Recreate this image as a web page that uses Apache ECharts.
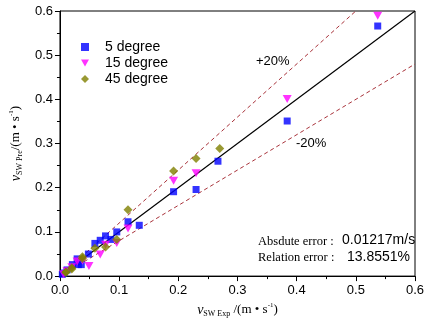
<!DOCTYPE html>
<html>
<head>
<meta charset="utf-8">
<script src="https://cdn.jsdelivr.net/npm/echarts@6/dist/echarts.min.js"></script>
<style>
  html, body { margin: 0; padding: 0; background: #fff; }
  #chart { width: 428px; height: 323px; }
</style>
</head>
<body>
<div id="chart"></div>
<script>
var deg5 = [
  [0.004, 0.004], [0.007, 0.007], [0.012, 0.014], [0.021, 0.026], [0.031, 0.026],
  [0.036, 0.026], [0.029, 0.039], [0.048, 0.050], [0.059, 0.074], [0.068, 0.081],
  [0.077, 0.091], [0.086, 0.083], [0.096, 0.100], [0.115, 0.123], [0.134, 0.115],
  [0.192, 0.191], [0.230, 0.196], [0.267, 0.260], [0.384, 0.351], [0.537, 0.566]
];
var deg15 = [
  [0.006, 0.004], [0.012, 0.011], [0.020, 0.020], [0.029, 0.033], [0.038, 0.035],
  [0.049, 0.023], [0.068, 0.049], [0.077, 0.071], [0.096, 0.075], [0.115, 0.108],
  [0.192, 0.216], [0.230, 0.233], [0.384, 0.401], [0.537, 0.589]
];
var deg45 = [
  [0.010, 0.008], [0.010, 0.009], [0.020, 0.016], [0.020, 0.019], [0.038, 0.040],
  [0.038, 0.044], [0.059, 0.063], [0.077, 0.066], [0.096, 0.083], [0.115, 0.150],
  [0.192, 0.238], [0.230, 0.266], [0.270, 0.289]
];
var lineEqual = [[0, 0], [0.6, 0.6]];
var linePlus20 = [[0, 0], [0.5, 0.6]];
var lineMinus20 = [[0, 0], [0.6, 0.48]];
var seriesNames = ['5 degree', '15 degree', '45 degree'];

var chart = echarts.init(document.getElementById('chart'));

var serif = '"Liberation Serif", "DejaVu Serif", serif';
var sans = '"Liberation Sans", Arial, sans-serif';

var nameRich = {
  v: { fontFamily: serif, fontStyle: 'italic', fontSize: 14, color: '#000', lineHeight: 16 },
  sub: { fontFamily: serif, fontSize: 8, color: '#000', verticalAlign: 'bottom', lineHeight: 16, padding: [6, 0, 0, 0] },
  u: { fontFamily: serif, fontSize: 13, color: '#000', lineHeight: 16 },
  sup: { fontFamily: serif, fontSize: 7, color: '#000', verticalAlign: 'top', lineHeight: 16 }
};

var triDown = 'path://M0,0 L10,0 L5,9 Z';

var option = {
  animation: false,
  grid: {
    left: 53, right: 13, top: 11, bottom: 44,
    show: true, borderColor: '#000', borderWidth: 1
  },
  legend: {
    orient: 'vertical',
    left: 76,
    top: 34,
    itemWidth: 8,
    itemHeight: 8,
    itemGap: 0,
    textStyle: { fontFamily: sans, fontSize: 14, color: '#000', lineHeight: 16, padding: [0, 0, 0, 11] },
    data: [
      { name: seriesNames[0], icon: 'rect' },
      { name: seriesNames[1], icon: triDown },
      { name: seriesNames[2], icon: 'diamond' }
    ]
  },
  xAxis: {
    type: 'value',
    min: 0, max: 0.6, interval: 0.1,
    name: '{v|v}{sub|SW Exp}{u| /(m • s}{sup|-1}{u|)}',
    nameLocation: 'middle',
    nameGap: 24,
    nameTextStyle: { rich: nameRich },
    axisLine: { show: true, onZero: false, lineStyle: { color: '#000', width: 1 } },
    axisTick: { show: true, length: 5, lineStyle: { color: '#000' } },
    minorTick: { show: true, splitNumber: 2, length: 3, lineStyle: { color: '#000' } },
    splitLine: { show: false },
    axisLabel: {
      fontFamily: sans, fontSize: 13, color: '#000', margin: 8,
      formatter: function (v) { return v.toFixed(1); }
    }
  },
  yAxis: {
    type: 'value',
    min: 0, max: 0.6, interval: 0.1,
    name: '{v|v}{sub|SW Pre}{u|/(m • s}{sup|-1}{u|)}',
    nameLocation: 'middle',
    nameRotate: 90,
    nameGap: 33,
    nameTextStyle: { rich: nameRich },
    axisLine: { show: true, onZero: false, lineStyle: { color: '#000', width: 1 } },
    axisTick: { show: true, length: 5, lineStyle: { color: '#000' } },
    minorTick: { show: true, splitNumber: 2, length: 3, lineStyle: { color: '#000' } },
    splitLine: { show: false },
    axisLabel: {
      fontFamily: sans, fontSize: 13, color: '#000', margin: 7,
      formatter: function (v) { return v.toFixed(1); }
    }
  },
  series: [
    {
      name: 'y=x', type: 'line', data: lineEqual, symbol: 'none', silent: true,
      lineStyle: { color: '#000', width: 1.2 }, z: 1
    },
    {
      name: '+20%', type: 'line', data: linePlus20, symbol: 'none', silent: true,
      lineStyle: { color: '#a8323a', width: 1, type: [4, 3] }, z: 1
    },
    {
      name: '-20%', type: 'line', data: lineMinus20, symbol: 'none', silent: true,
      lineStyle: { color: '#a8323a', width: 1, type: [4, 3] }, z: 1
    },
    {
      name: seriesNames[0], type: 'scatter', data: deg5,
      symbol: 'rect', symbolSize: 7, itemStyle: { color: '#0000ff' }, z: 3
    },
    {
      name: seriesNames[1], type: 'scatter', data: deg15,
      symbol: triDown, symbolSize: [9, 8], itemStyle: { color: '#ff00ff' }, z: 4
    },
    {
      name: seriesNames[2], type: 'scatter', data: deg45,
      symbol: 'diamond', symbolSize: 9, itemStyle: { color: '#808000' }, z: 5
    }
  ],
  graphic: [
    { type: 'text', left: 256, top: 55, style: { text: '+20%', font: '13px ' + sans, fill: '#000' } },
    { type: 'text', left: 296, top: 137, style: { text: '-20%', font: '13px ' + sans, fill: '#000' } },
    { type: 'text', left: 258, top: 235, style: { text: 'Absdute error :', font: '12.5px ' + serif, fill: '#000' } },
    { type: 'text', left: 342, top: 233, style: { text: '0.01217m/s', font: '14px ' + sans, fill: '#000' } },
    { type: 'text', left: 258, top: 251, style: { text: 'Relation error :', font: '12.5px ' + serif, fill: '#000' } },
    { type: 'text', left: 347, top: 250, style: { text: '13.8551%', font: '14px ' + sans, fill: '#000' } }
  ]
};

chart.setOption(option);
</script>
</body>
</html>
